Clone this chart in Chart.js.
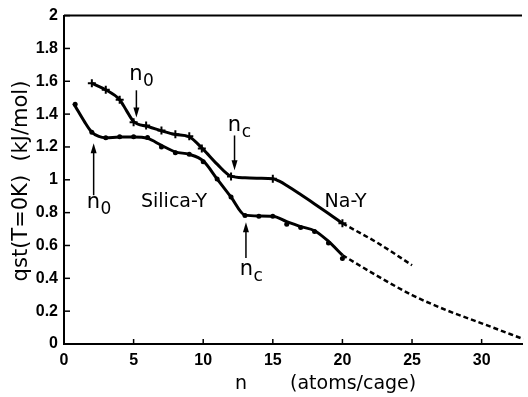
<!DOCTYPE html>
<html>
<head>
<meta charset="utf-8">
<script src="https://cdn.jsdelivr.net/npm/chart.js@4/dist/chart.umd.min.js"></script>
<style>
html,body{margin:0;padding:0;background:#fff;}
#wrap{width:528px;height:397px;}
</style>
</head>
<body>
<div id="wrap"><canvas id="c" width="528" height="397"></canvas></div>
<script>
// ---- data ----
// Na-Y measured points
const naY_n = [2, 3, 4, 5, 5.9, 7, 8, 9, 9.9, 12, 15, 20];
const naY_q = [1.588, 1.548, 1.488, 1.351, 1.331, 1.30, 1.278, 1.265, 1.19, 1.02, 1.007, 0.735];
// Na-Y smooth curve
const naYFit_n = [2, 3, 4, 4.5, 5, 6, 7, 8, 9, 10, 11, 12, 13, 14, 15, 15.5, 16, 17, 18, 19, 20];
const naYFit_q = [1.588, 1.548, 1.488, 1.42, 1.355, 1.325, 1.298, 1.276, 1.262, 1.185, 1.095, 1.022, 1.012, 1.01, 1.007, 0.99, 0.965, 0.91, 0.853, 0.795, 0.735];
// Na-Y extrapolation (dashed)
const naYExt_n = [20, 22.5, 25];
const naYExt_q = [0.735, 0.617, 0.48];

// Silica-Y measured points
const siY_n = [0.8, 2, 3, 4, 5, 6, 7, 8, 9, 10, 11, 12, 13, 14, 15, 16, 17, 18, 19, 20];
const siY_q = [1.46, 1.29, 1.256, 1.262, 1.262, 1.258, 1.2, 1.165, 1.155, 1.11, 1.005, 0.895, 0.782, 0.778, 0.778, 0.73, 0.71, 0.685, 0.615, 0.52];
// Silica-Y smooth curve
const siYFit_n = [0.7, 1, 1.5, 2, 2.5, 3, 4, 5, 6, 7, 8, 9, 10, 11, 12, 13, 14, 15, 16, 17, 18, 19, 20];
const siYFit_q = [1.465, 1.42, 1.35, 1.29, 1.264, 1.256, 1.26, 1.26, 1.252, 1.21, 1.17, 1.155, 1.115, 1.005, 0.895, 0.785, 0.78, 0.778, 0.745, 0.715, 0.69, 0.625, 0.541];
// Silica-Y extrapolation (dashed)
const siYExt_n = [20, 22.5, 25, 27.5, 30, 33];
const siYExt_q = [0.541, 0.415, 0.298, 0.205, 0.126, 0.03];

const xTicks = [0, 5, 10, 15, 20, 25, 30];
const yTicks = [0, 0.2, 0.4, 0.6, 0.8, 1, 1.2, 1.4, 1.6, 1.8, 2];

const pts = (xs, ys) => xs.map((v, i) => ({x: v, y: ys[i]}));

const TITLE_FONT = '"DejaVu Sans", sans-serif';
const TICK_FONT = {family: '"Liberation Sans", Arial, sans-serif', size: 16, weight: 'bold'};

const annot = {
  id: 'annot',
  afterDraw(chart) {
    const {ctx, chartArea: a, scales: {x, y}} = chart;
    ctx.save();
    ctx.strokeStyle = '#000';
    ctx.fillStyle = '#000';
    // top frame line
    ctx.lineWidth = 2;
    ctx.beginPath(); ctx.moveTo(a.left, a.top); ctx.lineTo(a.right, a.top); ctx.stroke();
    // inward tick marks
    ctx.lineWidth = 1.5;
    xTicks.forEach(v => {
      const px = x.getPixelForValue(v);
      ctx.beginPath(); ctx.moveTo(px, a.bottom); ctx.lineTo(px, a.bottom - 5); ctx.stroke();
    });
    yTicks.forEach(v => {
      const py = y.getPixelForValue(v);
      ctx.beginPath(); ctx.moveTo(a.left, py); ctx.lineTo(a.left + 6, py); ctx.stroke();
    });

    // arrows (data coords)
    const arrow = (n, qFrom, qTo) => {
      const px = x.getPixelForValue(n);
      const y1 = y.getPixelForValue(qFrom), y2 = y.getPixelForValue(qTo);
      const dir = y2 > y1 ? 1 : -1;
      ctx.lineWidth = 1.5;
      ctx.beginPath(); ctx.moveTo(px, y1); ctx.lineTo(px, y2 - dir * 6); ctx.stroke();
      ctx.beginPath();
      ctx.moveTo(px, y2);
      ctx.lineTo(px - 3, y2 - dir * 10);
      ctx.lineTo(px + 3, y2 - dir * 10);
      ctx.closePath(); ctx.fill();
    };
    arrow(5.2, 1.545, 1.38);
    arrow(2.13, 0.906, 1.222);
    arrow(12.25, 1.27, 1.058);
    arrow(13.07, 0.523, 0.742);

    // subscripted labels
    const sub = (n, q, s) => {
      const px = x.getPixelForValue(n), py = y.getPixelForValue(q);
      ctx.textAlign = 'left'; ctx.textBaseline = 'alphabetic';
      ctx.font = '21px ' + TITLE_FONT;
      ctx.fillText('n', px, py);
      const w = ctx.measureText('n').width;
      ctx.font = '17px ' + TITLE_FONT;
      ctx.fillText(s, px + w + 0.5, py + 6);
    };
    sub(4.68, 1.605, '0');
    sub(1.63, 0.829, '0');
    sub(11.77, 1.30, 'c');
    sub(12.62, 0.419, 'c');

    ctx.font = '19px ' + TITLE_FONT;
    ctx.textAlign = 'left'; ctx.textBaseline = 'alphabetic';
    ctx.fillText('Silica-Y', x.getPixelForValue(5.53), y.getPixelForValue(0.833));
    ctx.fillText('Na-Y', x.getPixelForValue(18.72), y.getPixelForValue(0.833));

    // axis titles
    ctx.font = '19px ' + TITLE_FONT;
    ctx.fillText('n', 235, 389);
    ctx.fillText('(atoms/cage)', 290, 389);
    ctx.save();
    ctx.translate(22, 181);
    ctx.rotate(-Math.PI / 2);
    ctx.textAlign = 'center'; ctx.textBaseline = 'middle';
    ctx.font = '21px ' + TITLE_FONT;
    ctx.fillText('qst(T=0K)  (kJ/mol)', 0, 0);
    ctx.restore();
    ctx.restore();
  }
};

new Chart(document.getElementById('c'), {
  type: 'scatter',
  data: {
    datasets: [
      {data: pts(naYFit_n, naYFit_q), showLine: true, borderColor: '#000', borderWidth: 3, pointRadius: 0, tension: 0.4, cubicInterpolationMode: 'monotone'},
      {data: pts(naYExt_n, naYExt_q), showLine: true, borderColor: '#000', borderWidth: 2.5, borderDash: [5, 3], pointRadius: 0, tension: 0.4, cubicInterpolationMode: 'monotone'},
      {data: pts(naY_n, naY_q), showLine: false, pointStyle: 'cross', pointRadius: 4, borderColor: '#000', pointBorderWidth: 2},
      {data: pts(siYFit_n, siYFit_q), showLine: true, borderColor: '#000', borderWidth: 3, pointRadius: 0, tension: 0.4, cubicInterpolationMode: 'monotone'},
      {data: pts(siYExt_n, siYExt_q), showLine: true, borderColor: '#000', borderWidth: 2.5, borderDash: [5, 3], pointRadius: 0, tension: 0.4, cubicInterpolationMode: 'monotone'},
      {data: pts(siY_n, siY_q), showLine: false, pointStyle: 'circle', pointRadius: 2.5, backgroundColor: '#000', borderColor: '#000', pointBorderWidth: 0}
    ]
  },
  options: {
    responsive: false,
    devicePixelRatio: 1,
    animation: false,
    clip: false,
    layout: {padding: {top: 15, right: 0, left: 0, bottom: 0}},
    plugins: {legend: {display: false}, tooltip: {enabled: false}},
    scales: {
      x: {
        type: 'linear', min: 0, max: 32.9,
        afterFit: s => { s.height = 53; },
        grid: {display: false, drawTicks: false},
        border: {display: true, color: '#000', width: 2},
        ticks: {stepSize: 5, includeBounds: false, padding: 7, color: '#000', font: TICK_FONT, maxRotation: 0}
      },
      y: {
        type: 'linear', min: 0, max: 2,
        afterFit: s => { s.width = 64; },
        grid: {display: false, drawTicks: false},
        border: {display: true, color: '#000', width: 2},
        ticks: {stepSize: 0.2, padding: 6, color: '#000', font: TICK_FONT,
                callback: v => String(parseFloat(Number(v).toFixed(1)))}
      }
    }
  },
  plugins: [annot]
});
</script>
</body>
</html>
